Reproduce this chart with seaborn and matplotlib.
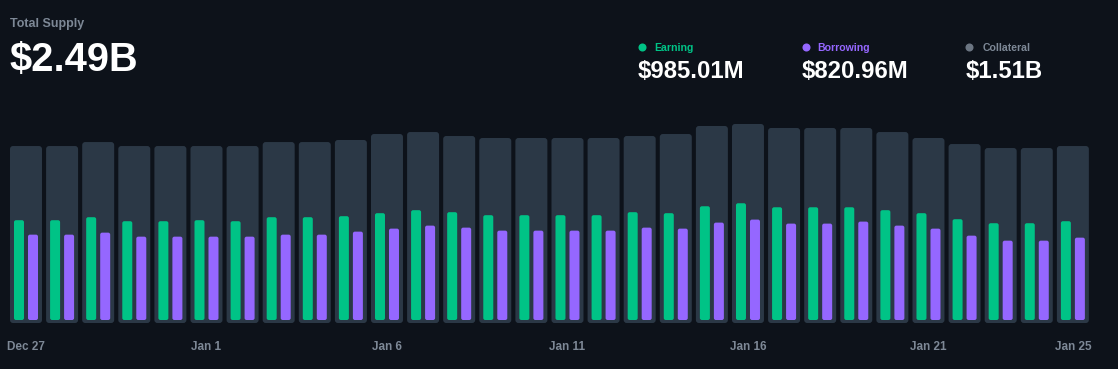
"""Total supply dashboard: daily supply with earning / borrowing bars."""

import matplotlib.pyplot as plt
import numpy as np
import pandas as pd
import seaborn as sns
from matplotlib.lines import Line2D
from matplotlib.patches import FancyBboxPatch

# ---- data (USD millions) ----
days = [d.strftime('%b %-d') for d in pd.date_range('2024-12-27', '2025-01-25')]
total_supply = [2490, 2490, 2546, 2490, 2490, 2490, 2490, 2546, 2546, 2575,
                2659, 2687, 2631, 2603, 2603, 2603, 2603, 2631, 2659, 2772,
                2800, 2744, 2744, 2744, 2687, 2603, 2518, 2462, 2462, 2490]
earning = [995, 995, 1025, 985, 985, 995, 985, 1025, 1025, 1035,
           1065, 1095, 1075, 1045, 1045, 1045, 1045, 1075, 1065, 1134,
           1164, 1124, 1124, 1124, 1095, 1065, 1005, 965, 965, 985]
borrowing = [851, 851, 871, 831, 831, 831, 831, 851, 851, 881,
             911, 941, 921, 891, 891, 891, 891, 921, 911, 971,
             1001, 961, 961, 981, 941, 911, 841, 791, 791, 821]
tick_labels = ['Dec 27', 'Jan 1', 'Jan 6', 'Jan 11', 'Jan 16', 'Jan 21', 'Jan 25']

headline = ('Total Supply', '$2.49B')
legend_items = [('Earning', '$985.01M'), ('Borrowing', '$820.96M'), ('Collateral', '$1.51B')]

BG = '#0d121a'
GRAY_BAR = '#2b3846'
GREEN = '#00c386'
PURPLE = '#9567ff'
MUTED = '#7d8896'
DOT_GRAY = '#6b7582'

W, H = 1118, 369


def round_bars(ax, radius_px):
    """Swap the seaborn rectangles for rounded ones of the same geometry."""
    bbox = ax.get_window_extent()
    x0, x1 = ax.get_xlim()
    y0, y1 = ax.get_ylim()
    xpp = (x1 - x0) / bbox.width
    ypp = (y1 - y0) / bbox.height
    for p in list(ax.patches):
        fb = FancyBboxPatch((p.get_x(), p.get_y()), p.get_width(), p.get_height(),
                            boxstyle=f'round,pad=0,rounding_size={radius_px * xpp}',
                            mutation_aspect=ypp / xpp,
                            fc=p.get_facecolor(), ec='none', lw=0)
        p.remove()
        ax.add_patch(fb)


sns.set_style('dark')
plt.rcParams['font.family'] = ['Liberation Sans', 'DejaVu Sans']

fig = plt.figure(figsize=(W / 100, H / 100), dpi=100, facecolor=BG)
ax = fig.add_axes([0, 46 / H, 1, 323 / H])
ax.set_facecolor(BG)

sns.barplot(x=days, y=total_supply, order=days, color=GRAY_BAR, saturation=1,
            width=0.886, errorbar=None, ax=ax)

ax2 = ax.twinx()
df = pd.DataFrame({'day': days * 2,
                   'series': ['Earning'] * len(days) + ['Borrowing'] * len(days),
                   'value': earning + borrowing})
sns.barplot(data=df, x='day', y='value', hue='series', order=days,
            hue_order=['Earning', 'Borrowing'], palette=[GREEN, PURPLE],
            saturation=1, width=0.776, gap=0.286, errorbar=None,
            legend=False, ax=ax2)

ax.set_xlim(-0.72, 30.25)
ax.set_ylim(0, 323 * 14.07)
ax2.set_ylim(-3 * 9.97, 320 * 9.97)

for a in (ax, ax2):
    for s in a.spines.values():
        s.set_visible(False)
    a.set_yticks([])
    a.set_xlabel('')
    a.set_ylabel('')
    a.grid(False)

ax.set_xticks([days.index(t) for t in tick_labels], tick_labels)
ax.tick_params(axis='x', length=0, pad=13, labelsize=8.5, labelcolor=MUTED)
for lbl in ax.get_xticklabels():
    lbl.set_fontweight('bold')

round_bars(ax, 3)
round_bars(ax2, 2)

# ---- header ----
fig.text(10 / W, 1 - 26.7 / H, headline[0], fontsize=9, fontweight='bold',
         color=MUTED, va='baseline', ha='left')
fig.text(9 / W, 1 - 71 / H, headline[1], fontsize=28.7, fontweight='bold',
         color='white', va='baseline', ha='left')

dot_x = [641.7, 805.7, 969.3]
label_x = [654, 817.7, 982.3]
value_x = [637.3, 801.7, 965.7]
dot_colors = [GREEN, PURPLE, DOT_GRAY]
label_colors = [GREEN, PURPLE, MUTED]
for (name, val), dx, lx, vx, dc, lc in zip(legend_items, dot_x, label_x, value_x,
                                            dot_colors, label_colors):
    fig.add_artist(Line2D([dx / W], [1 - 46.7 / H], marker='o', markersize=5.8,
                          color=dc, markeredgewidth=0, transform=fig.transFigure))
    fig.text(lx / W, 1 - 51 / H, name, fontsize=7.6, fontweight='bold',
             color=lc, va='baseline', ha='left')
    fig.text(vx / W, 1 - 77.7 / H, val, fontsize=17.2, fontweight='bold',
             color='white', va='baseline', ha='left')

fig.savefig('out.png', dpi=100, facecolor=BG)
plt.close(fig)
